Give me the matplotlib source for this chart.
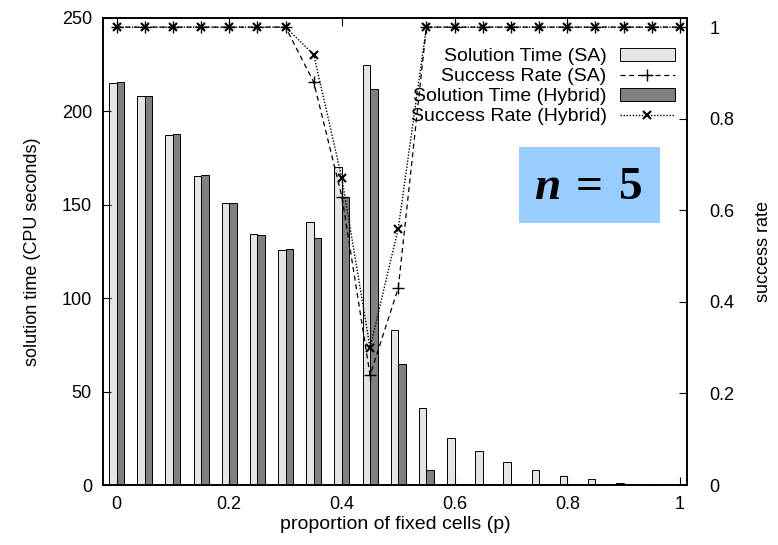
import numpy as np
import matplotlib
matplotlib.use('Agg')
import matplotlib.pyplot as plt
from matplotlib.patches import Rectangle

plt.rcParams['font.family'] = ['Liberation Sans', 'DejaVu Sans']
plt.rcParams['mathtext.fontset'] = 'custom'
plt.rcParams['mathtext.rm'] = 'Liberation Serif:bold'
plt.rcParams['mathtext.it'] = 'Liberation Serif:bold:italic'
plt.rcParams['mathtext.bf'] = 'Liberation Serif:bold'

# proportion of fixed cells
p = [0.0, 0.05, 0.1, 0.15, 0.2, 0.25, 0.3, 0.35, 0.4, 0.45, 0.5,
     0.55, 0.6, 0.65, 0.7, 0.75, 0.8, 0.85, 0.9, 0.95, 1.0]
# solution time (CPU seconds)
time_sa = [215, 208.5, 187.5, 165.5, 151, 134.5, 126, 141, 170, 225, 83,
           41, 25, 18, 12.5, 8, 5, 3, 1, 0.3, 0.2]
time_hyb = [216, 208.5, 188, 166, 151, 134, 126.5, 132, 154, 212, 65,
            8, 0.3, 0.3, 0.3, 0.3, 0.3, 0.3, 0.5, 0.3, 0.3]
# success rate
rate_sa = [1, 1, 1, 1, 1, 1, 1, 0.88, 0.63, 0.24, 0.43,
           1, 1, 1, 1, 1, 1, 1, 1, 1, 1]
rate_hyb = [1, 1, 1, 1, 1, 1, 1, 0.94, 0.67, 0.30, 0.56,
            1, 1, 1, 1, 1, 1, 1, 1, 1, 1]

p = np.array(p)
w = 0.0133

fig = plt.figure(figsize=(7.78, 5.45), dpi=100)
ax = fig.add_axes([0.1324, 0.110, 0.7506, 0.857])
ax2 = ax.twinx()

b1 = ax.bar(p - w / 2, time_sa, width=w, color='#e5e5e5', edgecolor='black',
            linewidth=0.7, label='Solution Time (SA)')
b2 = ax.bar(p + w / 2, time_hyb, width=w, color='#808080', edgecolor='black',
            linewidth=0.7, label='Solution Time (Hybrid)')

l1, = ax2.plot(p, rate_sa, color='black', linestyle=(0, (4, 3)), linewidth=0.9,
               marker='+', markersize=8, markeredgewidth=1.0, label='Success Rate (SA)')
l2, = ax2.plot(p, rate_hyb, color='black', linestyle=(0, (1, 1.2)), linewidth=1.0,
               marker='x', markersize=6, markeredgewidth=1.5, label='Success Rate (Hybrid)')

ax.set_xlim(-0.024, 1.0125)
ax.set_ylim(0, 250)
ax2.set_ylim(0, 1.02)

ax.set_xticks([0, 0.2, 0.4, 0.6, 0.8, 1])
ax.set_xticklabels(['0', '0.2', '0.4', '0.6', '0.8', '1'])
ax.set_yticks([0, 50, 100, 150, 200, 250])
ax2.set_yticks([0, 0.2, 0.4, 0.6, 0.8, 1])
ax2.set_yticklabels(['0', '0.2', '0.4', '0.6', '0.8', '1'])

ax.tick_params(axis='x', direction='in', top=True, length=6, labelsize=13, pad=8)
ax.tick_params(axis='y', direction='in', right=False, length=6, labelsize=13, pad=8)
ax2.tick_params(axis='y', direction='in', length=6, labelsize=13, pad=16)
for a in (ax, ax2):
    for s in a.spines.values():
        s.set_linewidth(1.2)

ax.set_xlabel('proportion of fixed cells (p)', fontsize=14, labelpad=2)
ax.set_ylabel('solution time (CPU seconds)', fontsize=13, labelpad=15)
ax2.set_ylabel('success rate', fontsize=13, labelpad=15)

leg = ax2.legend([b1, l1, b2, l2],
                 ['Solution Time (SA)', 'Success Rate (SA)',
                  'Solution Time (Hybrid)', 'Success Rate (Hybrid)'],
                 loc='upper right', bbox_to_anchor=(0.979, 0.935), markerfirst=False,
                 frameon=False, fontsize=14, handlelength=2.8, handleheight=0.6,
                 labelspacing=0.15, handletextpad=0.7, borderpad=0, borderaxespad=0)

ax2.add_patch(Rectangle((0.712, 0.561), 0.242, 0.163, transform=ax2.transAxes,
                        facecolor='#99ccff', edgecolor='none', zorder=3))
ax2.text(0.831, 0.638, r'$n\:=\:5$', transform=ax2.transAxes, fontsize=34,
         ha='center', va='center', zorder=4)

fig.savefig('out.png', dpi=100)
